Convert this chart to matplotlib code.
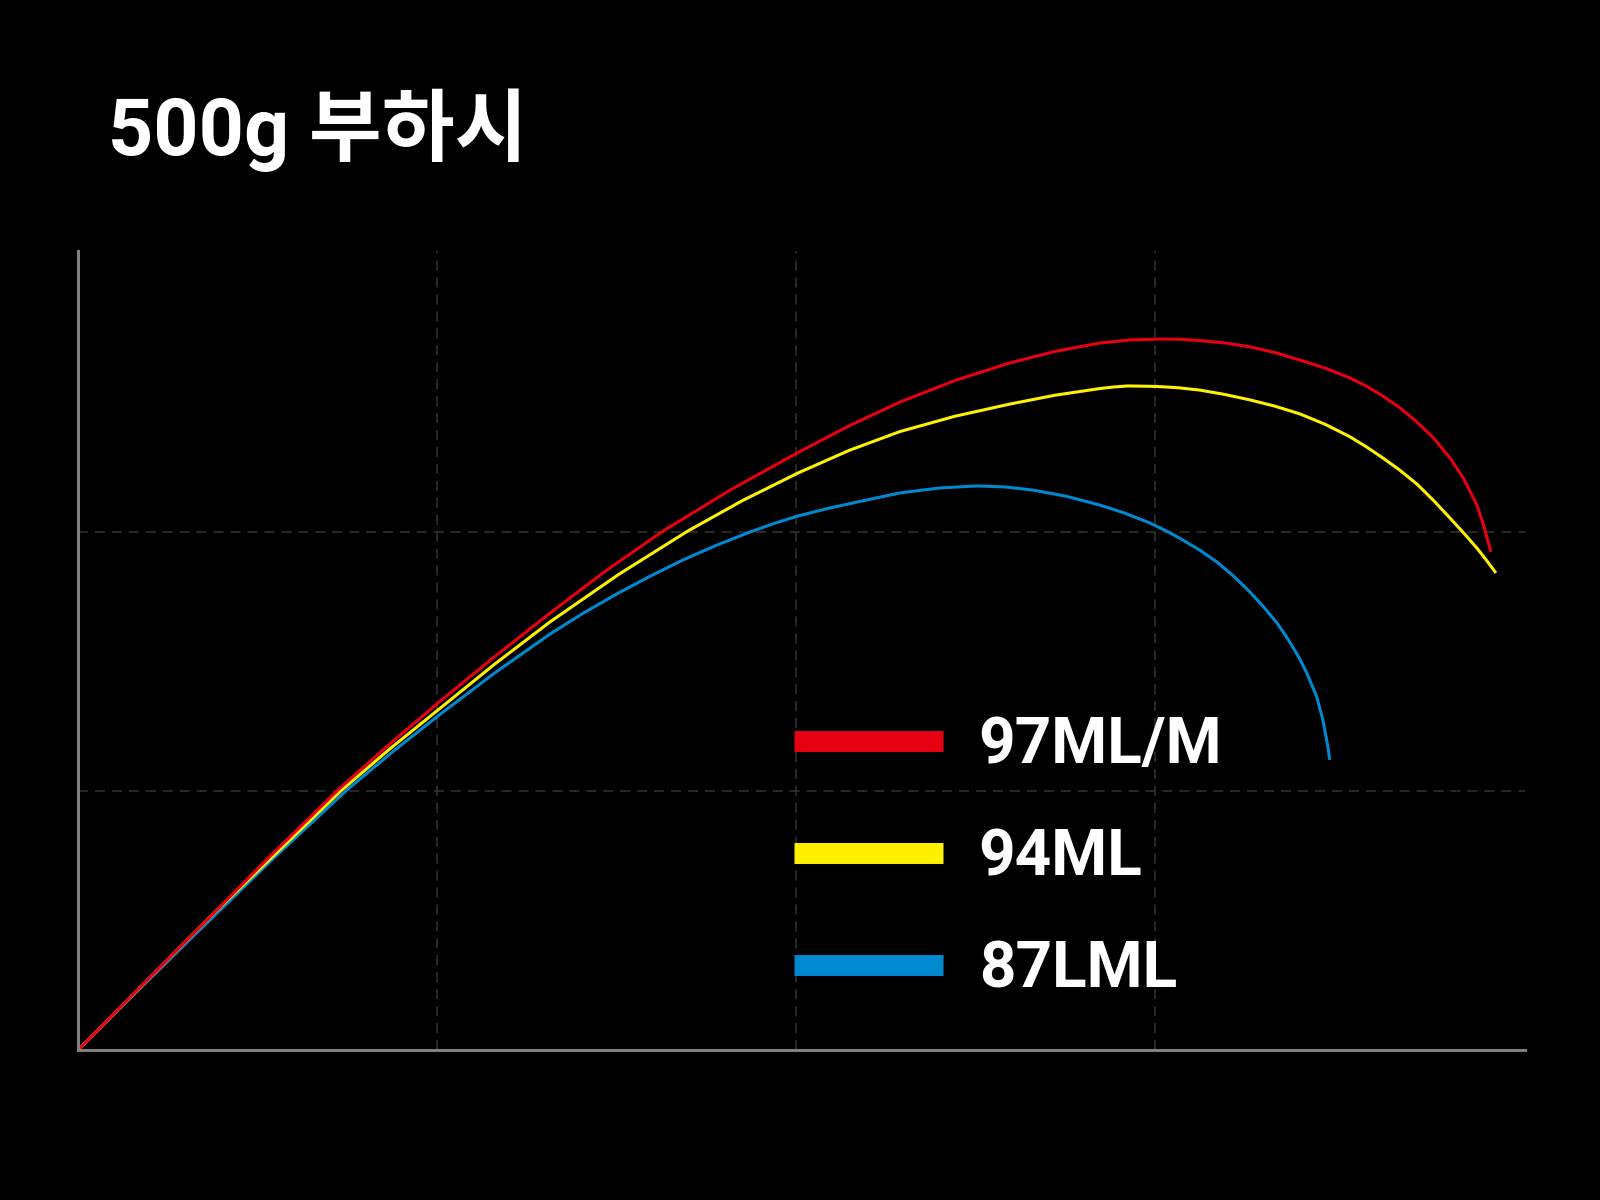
import matplotlib
matplotlib.use("Agg")
import matplotlib.pyplot as plt

plt.rcParams['lines.scale_dashes'] = False

# ---- data ----
title = "500g 부하시"
series_names = ["97ML/M", "94ML", "87LML"]
series_colors = ["#e60012", "#fff100", "#0088d0"]

red_x = [0, 0.170, 0.340, 0.532, 0.724, 0.864, 1.003, 1.159, 1.315, 1.472, 1.630, 1.818, 2.006,
         2.148, 2.290, 2.443, 2.596, 2.721, 2.847, 2.935, 3.022, 3.074, 3.125, 3.195, 3.265,
         3.334, 3.404, 3.474, 3.543, 3.589, 3.635, 3.682, 3.730, 3.776, 3.822, 3.859, 3.897,
         3.916, 3.936]
red_y = [0, 0.238, 0.475, 0.744, 1.004, 1.176, 1.340, 1.517, 1.687, 1.852, 2.004, 2.163, 2.307,
         2.410, 2.502, 2.585, 2.653, 2.697, 2.730, 2.742, 2.745, 2.744, 2.739, 2.730, 2.715,
         2.693, 2.664, 2.633, 2.595, 2.563, 2.525, 2.480, 2.425, 2.363, 2.286, 2.209, 2.104,
         2.024, 1.923]

yel_x = [0, 0.368, 0.735, 0.869, 1.003, 1.159, 1.315, 1.507, 1.699, 1.852, 2.006, 2.148, 2.290,
         2.443, 2.596, 2.721, 2.847, 2.886, 2.925, 3.006, 3.065, 3.125, 3.195, 3.265, 3.334,
         3.404, 3.474, 3.543, 3.589, 3.635, 3.682, 3.730, 3.776, 3.822, 3.859, 3.897, 3.923,
         3.950]
yel_y = [0, 0.514, 1.004, 1.163, 1.313, 1.488, 1.653, 1.837, 2.004, 2.122, 2.228, 2.315, 2.388,
         2.447, 2.494, 2.528, 2.554, 2.560, 2.564, 2.562, 2.557, 2.548, 2.531, 2.510, 2.486,
         2.456, 2.416, 2.368, 2.329, 2.286, 2.239, 2.185, 2.122, 2.054, 1.998, 1.938, 1.892,
         1.842]

blu_x = [0, 0.170, 0.340, 0.545, 0.749, 0.876, 1.003, 1.159, 1.315, 1.408, 1.501, 1.593, 1.685,
         1.779, 1.872, 1.939, 2.006, 2.092, 2.178, 2.290, 2.401, 2.504, 2.582, 2.660, 2.753,
         2.847, 2.916, 2.986, 3.032, 3.078, 3.125, 3.173, 3.219, 3.265, 3.302, 3.340, 3.362,
         3.384, 3.404, 3.423, 3.451, 3.468, 3.482, 3.487]
blu_y = [0, 0.234, 0.465, 0.741, 1.004, 1.151, 1.290, 1.454, 1.606, 1.687, 1.761, 1.829, 1.892,
         1.949, 2.000, 2.033, 2.062, 2.092, 2.118, 2.151, 2.170, 2.178, 2.174, 2.162, 2.138,
         2.104, 2.073, 2.035, 2.004, 1.969, 1.930, 1.884, 1.830, 1.768, 1.712, 1.649, 1.605,
         1.556, 1.509, 1.456, 1.363, 1.274, 1.170, 1.120]

x_grid = [1, 2, 3]
y_grid = [1, 2]
x_max = 4.031
y_max = 3.085

fam = ['Roboto', 'Noto Sans CJK KR', 'DejaVu Sans']

fig = plt.figure(figsize=(16, 12), dpi=100, facecolor='black')
ax = fig.add_axes([78/1600, 1-1050/1200, (1525-78)/1600, (1050-251)/1200])
ax.set_facecolor('black')
ax.set_xlim(0, x_max)
ax.set_ylim(0, y_max)

grid_style = dict(color='#333333', linewidth=1.1, linestyle=(0, (7.2, 5.0)), zorder=1)
for gx in x_grid:
    ax.axvline(gx, **grid_style)
for gy in y_grid:
    ax.axhline(gy, **grid_style)

lines = {}
for name, xs, ys, col in [(series_names[2], blu_x, blu_y, series_colors[2]),
                          (series_names[1], yel_x, yel_y, series_colors[1]),
                          (series_names[0], red_x, red_y, series_colors[0])]:
    ln, = ax.plot(xs, ys, color=col, linewidth=2.2, solid_capstyle='butt',
                  solid_joinstyle='round', label=name, zorder=3, clip_on=False)
    lines[name] = ln

for s in ['top', 'right']:
    ax.spines[s].set_visible(False)
for s in ['left', 'bottom']:
    ax.spines[s].set_color('#808080')
    ax.spines[s].set_linewidth(2.2)
    ax.spines[s].set_zorder(4)
ax.set_xticks([])
ax.set_yticks([])

leg = ax.legend([lines[n] for n in series_names], series_names,
                loc='center left', bbox_to_anchor=(794/1600, 1-858/1200),
                bbox_transform=fig.transFigure, frameon=False,
                borderpad=0, borderaxespad=0, handlelength=2.33,
                handletextpad=0.56, labelspacing=0.80,
                prop=dict(family=fam, size=46, weight='bold'))
for t in leg.get_texts():
    t.set_color('white')
for h in leg.legend_handles:
    h.set_linewidth(15.1)
    h.set_solid_capstyle('butt')

fig.text(108/1600, 1-155/1200, title, color='white', fontsize=57,
         fontweight='bold', family=fam, ha='left', va='baseline')

fig.savefig('out.png', dpi=100, facecolor='black')
